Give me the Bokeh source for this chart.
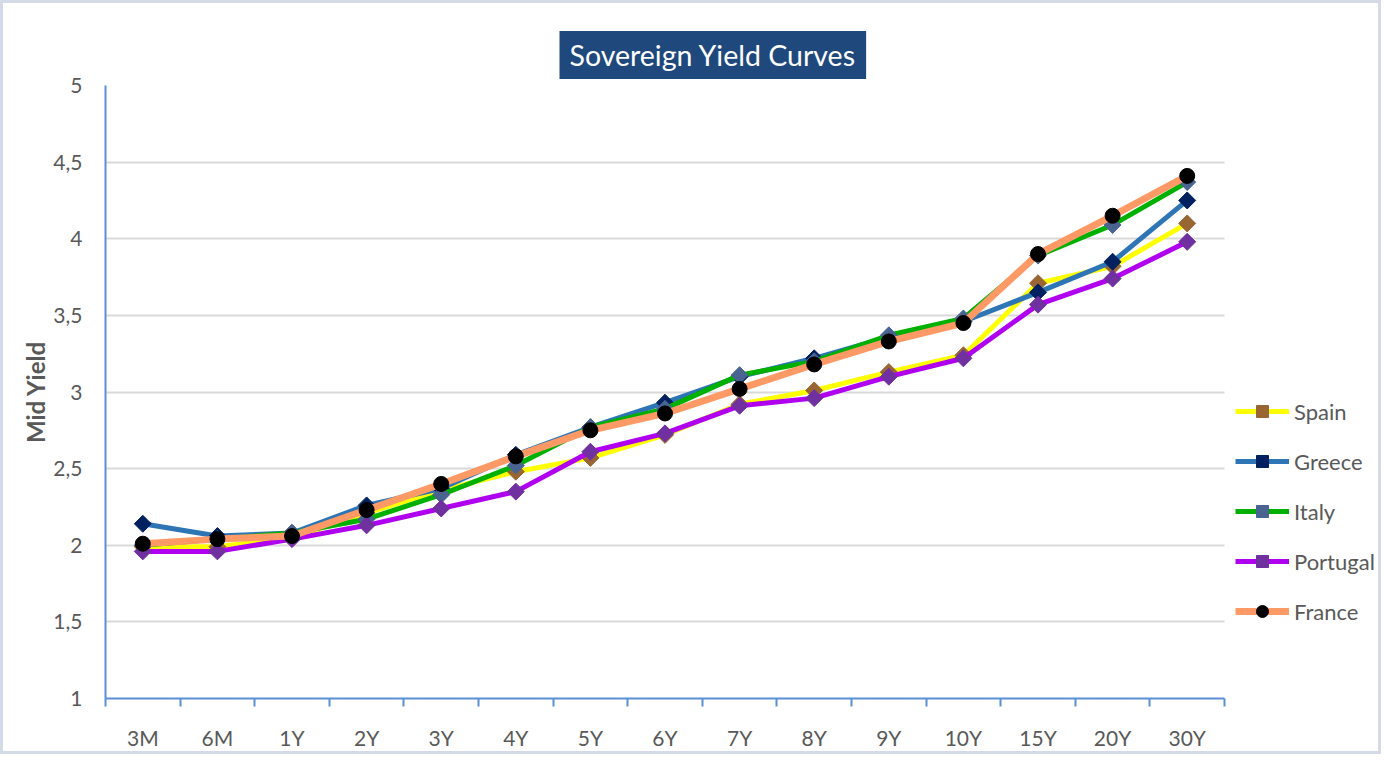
import numpy as np
from bokeh.plotting import figure
from bokeh.models import FixedTicker, CustomJSTickFormatter, Legend, LegendItem, Title, Range1d
from bokeh.embed import file_html
from bokeh.resources import INLINE

tenors = ["3M", "6M", "1Y", "2Y", "3Y", "4Y", "5Y", "6Y", "7Y", "8Y", "9Y", "10Y", "15Y", "20Y", "30Y"]
spain = [1.99, 1.99, 2.05, 2.21, 2.36, 2.48, 2.57, 2.72, 2.92, 3.01, 3.13, 3.24, 3.71, 3.82, 4.10]
greece = [2.14, 2.06, 2.08, 2.26, 2.37, 2.59, 2.77, 2.93, 3.10, 3.22, 3.36, 3.46, 3.65, 3.85, 4.25]
italy = [2.00, 2.04, 2.08, 2.17, 2.33, 2.52, 2.77, 2.89, 3.11, 3.20, 3.37, 3.48, 3.89, 4.09, 4.37]
portugal = [1.96, 1.96, 2.04, 2.13, 2.24, 2.35, 2.61, 2.73, 2.91, 2.96, 3.10, 3.22, 3.57, 3.74, 3.98]
france = [2.01, 2.04, 2.06, 2.23, 2.40, 2.58, 2.75, 2.86, 3.02, 3.18, 3.33, 3.45, 3.90, 4.15, 4.41]
y_ticks = [1, 1.5, 2, 2.5, 3, 3.5, 4, 4.5, 5]

FONT = "Lato"
AXIS_BLUE = "#5B8FD6"
TXT = "#595959"

W, H = 1381, 754
LEFT, TOP, BOTTOM, RIGHT = 102, 82, 59, 0
AXIS_PX = 1119  # pixel width used by the category axis
n = len(tenors)
frame_px = W - LEFT - RIGHT
x_end = -0.5 + frame_px * n / AXIS_PX  # room for the legend to the right of the axis

x = list(range(n))

p = figure(width=W, height=H, output_backend="svg", toolbar_location=None,
           x_range=Range1d(-0.5, x_end), y_range=Range1d(1, 5),
           min_border_left=LEFT, min_border_right=RIGHT, min_border_top=TOP, min_border_bottom=BOTTOM)
p.styles = {"border": "3px solid #D5DAE8"}
p.outline_line_color = None

p.title = Title(text="Sovereign Yield Curves", align="left", text_font=FONT,
                text_font_size="28.5px", text_color="white", text_font_style="normal",
                background_fill_color="#1F497D",
                padding=dict(left=10, right=10, top=7, bottom=7), offset=454, standoff=13)

# x axis
p.xaxis.ticker = FixedTicker(ticks=x, minor_ticks=[i - 0.5 for i in range(n + 1)])
p.xaxis.bounds = (-0.5, n - 0.5)
p.xaxis.major_label_overrides = {i: t for i, t in enumerate(tenors)}
p.xaxis.major_tick_in = 0
p.xaxis.major_tick_out = 0
p.xaxis.minor_tick_in = 0
p.xaxis.minor_tick_out = 8
p.xaxis.minor_tick_line_color = AXIS_BLUE
p.xaxis.minor_tick_line_width = 2
p.xaxis.axis_line_color = AXIS_BLUE
p.xaxis.axis_line_width = 2
p.xaxis.major_label_text_font = FONT
p.xaxis.major_label_text_font_size = "21px"
p.xaxis.major_label_text_color = TXT
p.xaxis.major_label_standoff = 18

# y axis
p.yaxis.ticker = FixedTicker(ticks=y_ticks, minor_ticks=[])
p.yaxis.formatter = CustomJSTickFormatter(code="return tick.toString().replace('.', ',');")
p.yaxis.major_tick_in = 0
p.yaxis.major_tick_out = 0
p.yaxis.axis_line_color = AXIS_BLUE
p.yaxis.axis_line_width = 2
p.yaxis.major_label_text_font = FONT
p.yaxis.major_label_text_font_size = "21px"
p.yaxis.major_label_text_color = TXT
p.yaxis.major_label_standoff = 23
p.yaxis.axis_label = "Mid Yield"
p.yaxis.axis_label_text_font = FONT
p.yaxis.axis_label_text_font_size = "24px"
p.yaxis.axis_label_text_font_style = "bold"
p.yaxis.axis_label_text_color = TXT
p.yaxis.axis_label_standoff = 0

p.xgrid.visible = False
grid = p.ygrid[0]
if "cross_bounds" in grid.properties():
    grid.cross_bounds = (-0.5, n - 0.5)
    grid.grid_line_color = "#D9D9D9"
    grid.grid_line_width = 2
else:
    grid.visible = False
    p.segment(x0=[-0.5] * len(y_ticks), x1=[n - 0.5] * len(y_ticks), y0=y_ticks, y1=y_ticks,
              line_color="#D9D9D9", line_width=2, level="underlay")

series = [
    ("Spain", spain, "#FFFF00", 5, "#996633", "square", 12),
    ("Greece", greece, "#2E75B6", 5, "#002060", "square", 12),
    ("Italy", italy, "#00B000", 5, "#4A6491", "square", 12),
    ("Portugal", portugal, "#B000F0", 5, "#7030A0", "square", 12),
    ("France", france, "#FF9A66", 7, "#000000", "circle", 15),
]

items = []
for name, vals, lc, lw, mc, mk, ms in series:
    r1 = p.line(x, vals, line_color=lc, line_width=lw)
    ang = np.pi / 4 if mk == "square" else 0
    r2 = p.scatter(x, vals, marker=mk, size=ms, angle=ang, fill_color=mc, line_color=mc)
    items.append(LegendItem(label=name, renderers=[r1, r2]))

legend = Legend(items=items, location=(1130, 72), border_line_color=None,
                background_fill_alpha=0, label_text_font=FONT, label_text_font_size="22px",
                label_text_color=TXT, glyph_width=54, glyph_height=30, label_height=30,
                spacing=20, padding=0, margin=0, label_standoff=5)
p.add_layout(legend)

open("out.html", "w").write(file_html(p, INLINE))
